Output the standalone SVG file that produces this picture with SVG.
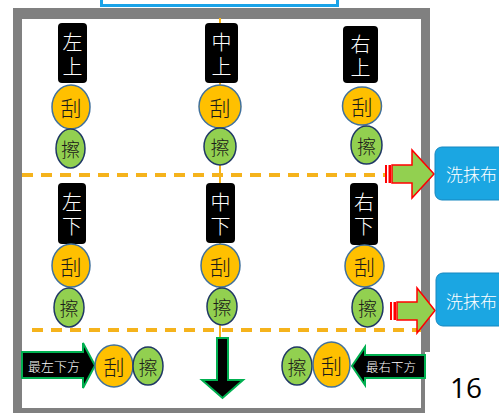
<svg xmlns="http://www.w3.org/2000/svg" width="499" height="413" viewBox="0 0 499 413">
<style>
.blk{fill:#000}
.bt{fill:#fff;font-family:"Noto Sans CJK TC","Noto Sans CJK SC",sans-serif;font-size:20px;font-weight:300;writing-mode:vertical-rl;letter-spacing:3.5px}
.or{fill:#FFC000;stroke:#41719C;stroke-width:1.5}
.gr{fill:#92D050;stroke:#1F3864;stroke-width:1.5}
.ct{fill:#1a1a1a;font-family:"Noto Sans CJK TC","Noto Sans CJK SC",sans-serif;font-weight:300;text-anchor:middle;dominant-baseline:central}
.dash{stroke:#F5B31C;stroke-width:4;stroke-dasharray:11 8;fill:none}
.sa{fill:#92D050;stroke:#FF0000;stroke-width:1.5}
.st{fill:#FF0000}
.ba{fill:#000;stroke:#00B050;stroke-width:2}
.blue{fill:#1BA6E2;stroke:#1787C0;stroke-width:1}
.wt{fill:#fff;font-family:"Noto Sans CJK TC","Noto Sans CJK SC",sans-serif;font-weight:300;dominant-baseline:central}
</style>
<rect width="499" height="413" fill="#fff"/>
<rect id="top-box" x="101.5" y="-10" width="236" height="15.5" fill="#fff" stroke="#1AA3E8" stroke-width="3"/>
<path id="frame" d="M13,8 H430 V413 H13 Z M22,19 V408 H421 V19 Z" fill="#808080" fill-rule="evenodd"/>
<rect x="425" y="352" width="74" height="61" fill="#fff"/>
<g id="connectors">
<line x1="220" y1="18" x2="220" y2="338" stroke="#F5B31C" stroke-width="2"/>
<line class="dash" x1="22" y1="175" x2="385" y2="175"/>
<line class="dash" x1="32" y1="330" x2="421" y2="330"/>
<g id="arrow-wash1">
<path class="sa" d="M392,165 H412 V150 L434,174 L412,198 V183 H392 Z"/>
<rect class="st" x="385" y="165" width="2" height="18"/>
<rect class="st" x="388.5" y="165" width="2.5" height="18"/>
</g>
<g id="arrow-wash2">
<path class="sa" d="M397,302 H417 V288 L435,310.5 L417,333 V320 H397 Z"/>
<rect class="st" x="390" y="302" width="2" height="18"/>
<rect class="st" x="393.5" y="302" width="2.5" height="18"/>
</g>
<path id="arrow-down" class="ba" d="M217,338 H228 V380 H243 L222.5,398 L202,380 H217 Z"/>
</g>
<g id="n-left-top">
<rect class="blk" x="58" y="23" width="29" height="60" rx="4"/>
<text class="bt" x="72.5" y="32.5">左上</text>
<ellipse class="or" cx="71" cy="107" rx="19" ry="22"/><text class="ct" x="71" y="107" font-size="21">刮</text>
<ellipse class="gr" cx="70.5" cy="148.5" rx="14.5" ry="19.5"/><text class="ct" x="70.5" y="148.5" font-size="19">擦</text>
</g>
<g id="n-mid-top">
<rect class="blk" x="205" y="23" width="33" height="60" rx="4"/>
<text class="bt" x="221.5" y="32.5">中上</text>
<ellipse class="or" cx="220" cy="106.5" rx="21" ry="21.5"/><text class="ct" x="220" y="106.5" font-size="21">刮</text>
<ellipse class="gr" cx="220" cy="146.5" rx="16" ry="18.5"/><text class="ct" x="220" y="146.5" font-size="19">擦</text>
</g>
<g id="n-right-top">
<rect class="blk" x="343" y="26" width="35" height="57" rx="4"/>
<text class="bt" x="360.5" y="34">右上</text>
<ellipse class="or" cx="362" cy="106" rx="19.5" ry="19"/><text class="ct" x="362" y="106" font-size="21">刮</text>
<ellipse class="gr" cx="366.5" cy="145" rx="15.5" ry="19"/><text class="ct" x="366.5" y="145" font-size="19">擦</text>
</g>
<g id="n-left-bottom">
<rect class="blk" x="58" y="183" width="28" height="61" rx="4"/>
<text class="bt" x="72" y="192.5">左下</text>
<ellipse class="or" cx="71" cy="265.5" rx="19" ry="21.5"/><text class="ct" x="71" y="265.5" font-size="21">刮</text>
<ellipse class="gr" cx="69" cy="307.5" rx="15" ry="19.5"/><text class="ct" x="69" y="307.5" font-size="19">擦</text>
</g>
<g id="n-mid-bottom">
<rect class="blk" x="206" y="183" width="29" height="60" rx="4"/>
<text class="bt" x="220.5" y="192.5">中下</text>
<ellipse class="or" cx="220.5" cy="265.5" rx="19.5" ry="21.5"/><text class="ct" x="220.5" y="265.5" font-size="21">刮</text>
<ellipse class="gr" cx="222" cy="306.5" rx="15" ry="18.5"/><text class="ct" x="222" y="306.5" font-size="19">擦</text>
</g>
<g id="n-right-bottom">
<rect class="blk" x="350" y="183" width="28" height="62" rx="4"/>
<text class="bt" x="364" y="192.5">右下</text>
<ellipse class="or" cx="364.5" cy="266" rx="19.5" ry="21"/><text class="ct" x="364.5" y="266" font-size="21">刮</text>
<ellipse class="gr" cx="367.5" cy="307.5" rx="15.5" ry="19.5"/><text class="ct" x="367.5" y="307.5" font-size="19">擦</text>
</g>
<g id="n-far-left">
<path class="ba" d="M22,352 H83 V343 L95,365.5 L83,388 V378 H22 Z"/>
<text class="wt" x="28" y="365" font-size="13">最左下方</text>
<ellipse class="or" cx="114" cy="366" rx="19" ry="21"/><text class="ct" x="114" y="366" font-size="21">刮</text>
<ellipse class="gr" cx="148" cy="366" rx="15" ry="19"/><text class="ct" x="148" y="366" font-size="19">擦</text>
</g>
<g id="n-far-right">
<path class="ba" d="M425,355 H365 V347 L352,366 L365,385 V378 H425 Z"/>
<text class="wt" x="366" y="366" font-size="12.5">最右下方</text>
<ellipse class="gr" cx="297" cy="366" rx="15" ry="19"/><text class="ct" x="297" y="366" font-size="19">擦</text>
<ellipse class="or" cx="331.5" cy="364.5" rx="18.5" ry="22.5"/><text class="ct" x="331.5" y="364.5" font-size="21">刮</text>
</g>
<g id="n-wash1">
<rect class="blue" x="435" y="147" width="80" height="53" rx="7"/>
<text class="wt" x="446" y="173.5" font-size="17">洗抹布</text>
</g>
<g id="n-wash2">
<rect class="blue" x="436" y="273" width="80" height="53" rx="7"/>
<text class="wt" x="446" y="300.5" font-size="17">洗抹布</text>
</g>
<text id="page-num" x="450" y="398" font-family="'Open Sans','Noto Sans',sans-serif" font-size="28" fill="#000">16</text>
</svg>
